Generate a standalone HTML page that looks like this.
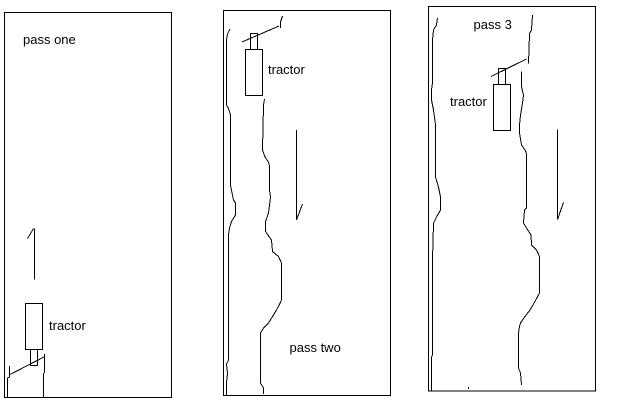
<!DOCTYPE html>
<html>
<head>
<meta charset="utf-8">
<style>
  html, body { margin: 0; padding: 0; background: #fff; }
  body { width: 622px; height: 407px; overflow: hidden; }
  svg { display: block; }
  text { font-family: "Liberation Sans", Arial, sans-serif; font-size: 13px; fill: #000; }
</style>
</head>
<body>
<svg width="622" height="407" viewBox="0 0 622 407" xmlns="http://www.w3.org/2000/svg">
  <rect x="0" y="0" width="622" height="407" fill="#fff"/>
  <g fill="none" stroke="#000" stroke-width="1" shape-rendering="crispEdges">
    <!-- Panel 1 -->
    <rect x="4.5" y="12.5" width="167" height="385"/>
    <!-- arrow up -->
    <line x1="34.5" y1="228.5" x2="34.5" y2="279.5"/>
    <line x1="27.5" y1="238.5" x2="33.5" y2="228.5"/>
    <!-- tractor -->
    <rect x="25.5" y="303.5" width="17" height="46"/>
    <rect x="30.5" y="349.5" width="7" height="16"/>
    <polyline points="9,375 45,356.5"/>
    <polyline points="9.5,366 9.5,377 7.5,378 7.5,398"/>
    <polyline points="44.5,354 44.5,372 43.5,374 43.5,397"/>

    <!-- Panel 2 -->
    <rect x="223.5" y="10.5" width="167" height="385"/>
    <polyline points="230,29 227.5,34 226.5,40 226.5,105 228.5,108.5 230.5,115 230.5,127 230.5,185 232.5,195 233.5,200 235.5,203 235.5,215 231.5,221.5 229.5,228 228.5,235 228.5,360 226.5,364 227.5,373 226.5,383 226.5,395"/>
    <polyline points="264.5,99 263.5,105 262.5,150 265,157 268.5,162 269.5,166 269.5,190 270.5,197 268.5,213 265.5,221.5 265.5,231.5 271.5,240 272.5,251.5 278.5,256.5 281.5,263 281.5,300 278.5,306.5 273.5,315 268.5,323 263.5,328 260.5,333 260.5,383 263.5,388 263.5,394"/>
    <!-- tractor -->
    <rect x="245.5" y="49.5" width="17" height="46"/>
    <rect x="250.5" y="33.5" width="7" height="16"/>
    <polyline points="242,42 279,26"/>
    <polyline points="282.5,16 280.5,22 280.5,28"/>
    <!-- arrow down -->
    <line x1="296.5" y1="130" x2="296.5" y2="220"/>
    <line x1="302.5" y1="204" x2="296.5" y2="220"/>

    <!-- Panel 3 -->
    <rect x="428.5" y="6.5" width="167" height="384.5"/>
    <polyline points="437.5,18 436.5,25 433.5,30 432.5,40 432.5,83 431.5,90 431.5,100 433.5,110 435.5,125 435.5,177 438.5,187 440.5,197 440.5,210 436.5,217 433.5,223 432.5,260 432.5,355 431.5,357 431.5,367 431.5,375 431.5,391"/>
    <polyline points="532.5,15 531.5,30 529.5,33.5 528.5,63.5"/>
    <polyline points="521.5,71.5 521.5,86.5 523.5,95 522.5,103 520.5,115 519.5,125 519.5,133 521.5,145 525,150 526.5,153.5 526.5,208 524.5,210 523.5,223 526.5,228 531,235 531.5,245 536.5,250 539.5,256.5 539.5,293 535,301.5 530,310 525,316.5 520.5,323 519.5,326.5 518.5,333 518.5,368 520.5,373 521.5,385"/>
    <!-- tractor -->
    <rect x="493.5" y="84.5" width="17" height="46"/>
    <rect x="498.5" y="68.5" width="7" height="16"/>
    <polyline points="491,76.5 526.5,59"/>
    <!-- arrow down -->
    <line x1="557.5" y1="129.5" x2="557.5" y2="219.5"/>
    <line x1="563.5" y1="202.5" x2="557.5" y2="219.5"/>
    <line x1="468.5" y1="387" x2="468.5" y2="389"/>
  </g>
  <text x="23" y="44">pass one</text>
  <text x="49" y="330">tractor</text>
  <text x="268" y="74">tractor</text>
  <text x="289.5" y="352">pass two</text>
  <text x="473.5" y="29">pass 3</text>
  <text x="450" y="106">tractor</text>
</svg>
</body>
</html>
